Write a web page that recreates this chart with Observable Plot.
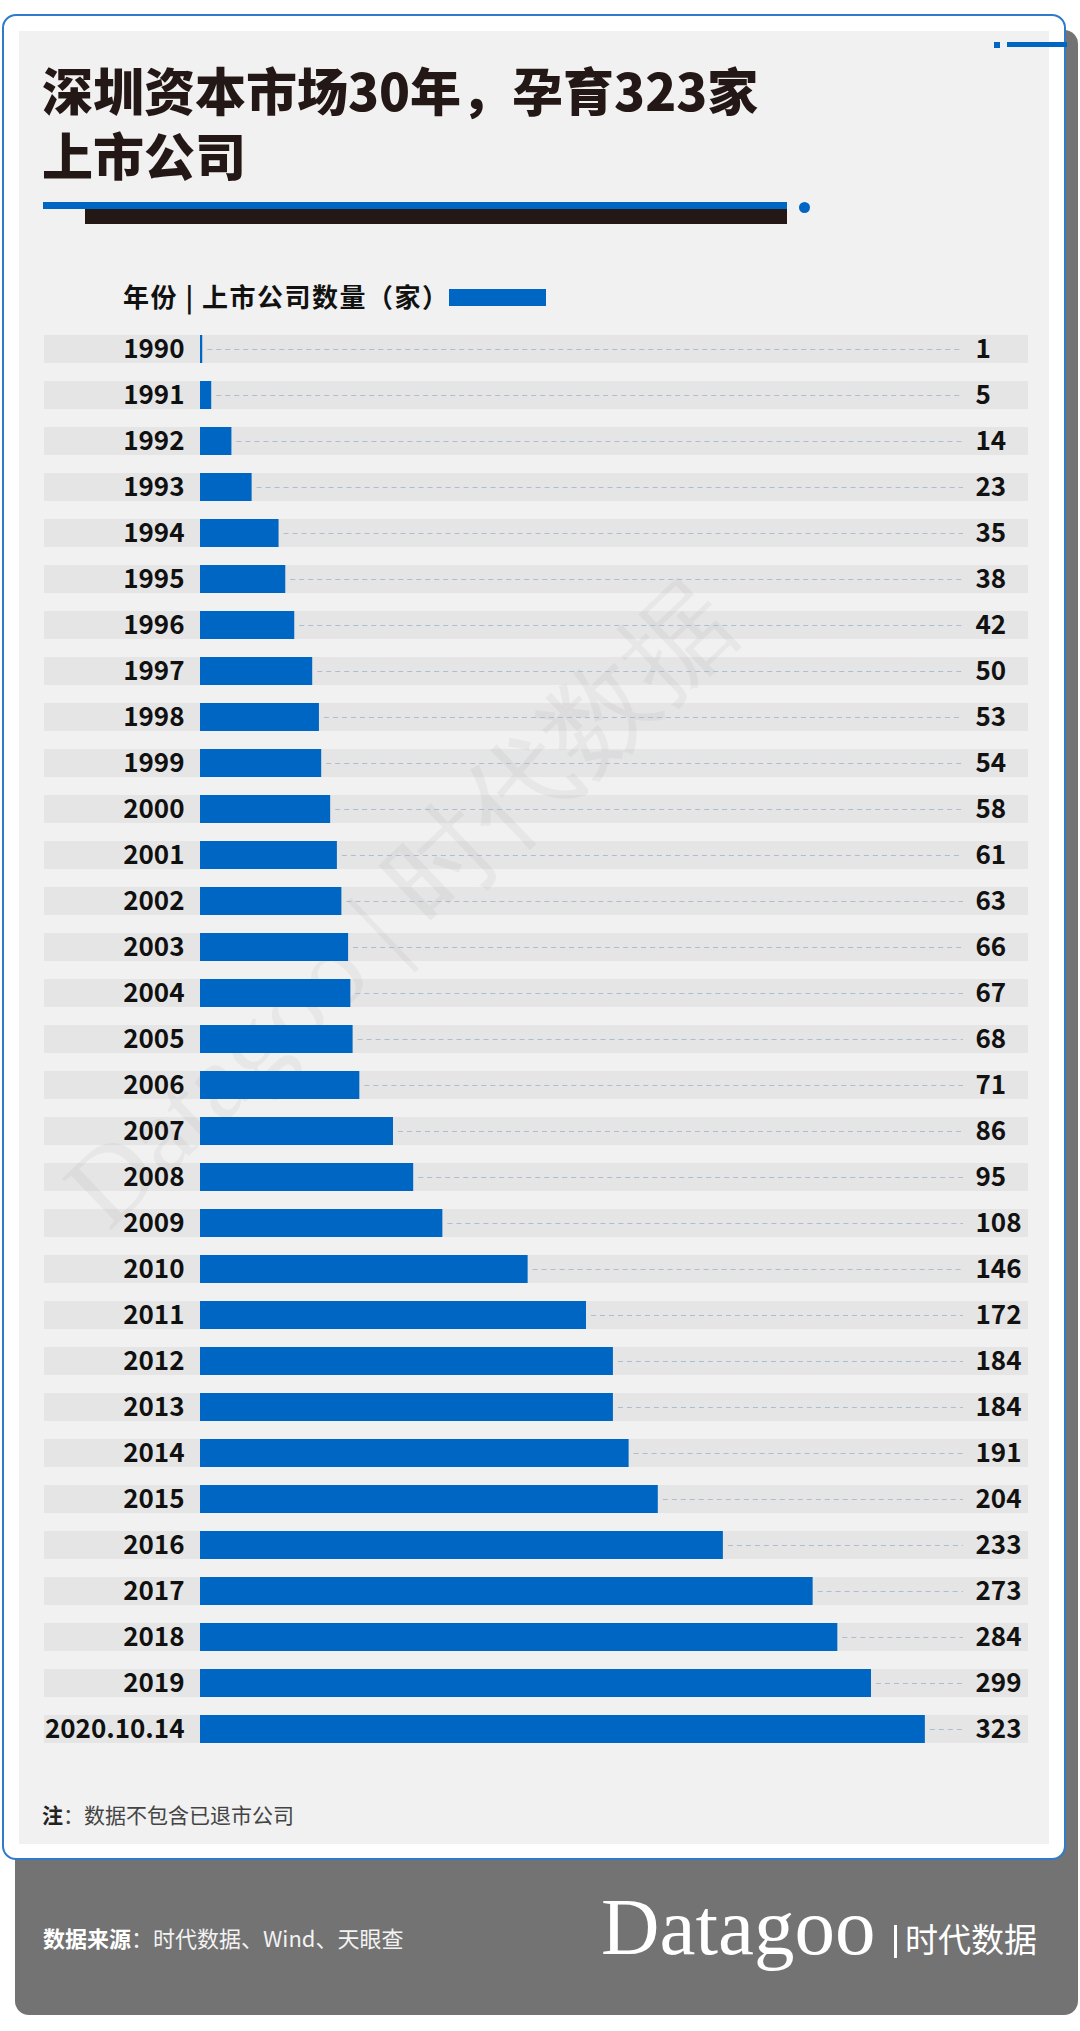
<!DOCTYPE html>
<html>
<head>
<meta charset="utf-8">
<script src="https://cdn.jsdelivr.net/npm/d3@7"></script>
<script src="https://cdn.jsdelivr.net/npm/@observablehq/plot@0.6"></script>
<style>
  html, body { margin: 0; padding: 0; background: #fff; }
  #page { position: relative; width: 1080px; height: 2031px; overflow: hidden; background: #fff; font-family: "Noto Sans CJK SC", "Noto Sans", sans-serif; }
  .abs { position: absolute; }
  .tl { position: absolute; left: 42px; font-size: 51px; line-height: 62px; height: 62px; font-weight: 900; color: #231815; white-space: nowrap; }
</style>
</head>
<body>
<div id="page">
  <div class="abs" style="left:15px;top:30px;width:1063px;height:1985px;background:#737373;border-radius:14px;"></div>
  <div class="abs" style="left:2px;top:14px;width:1064px;height:1846px;background:#fff;border:2px solid #2f7acb;border-radius:14px;box-sizing:border-box;"></div>
  <div class="abs" style="left:19px;top:31px;width:1030px;height:1813px;background:#f1f1f1;"></div>
  <!-- top-right mark -->
  <div class="abs" style="left:994px;top:42px;width:6px;height:6px;background:#0066c4;"></div>
  <div class="abs" style="left:1007px;top:42px;width:60px;height:5px;background:#0066c4;"></div>
  <!-- title -->
  <div class="tl" id="title1" style="top:58px;"></div>
  <div class="tl" id="title2" style="top:123px;"></div>
  <div class="abs" style="left:43px;top:202px;width:744px;height:7px;background:#0066c4;"></div>
  <div class="abs" style="left:85px;top:209px;width:702px;height:15px;background:#231815;"></div>
  <div class="abs" style="left:799px;top:202px;width:11px;height:11px;border-radius:50%;background:#0066c4;"></div>
  <!-- header legend -->
  <div class="abs" id="header" style="left:123px;top:280px;font-size:26px;line-height:32px;font-weight:700;color:#111;white-space:nowrap;letter-spacing:1.5px;"></div>
  <div class="abs" style="left:449px;top:289px;width:97px;height:17px;background:#0066c4;"></div>
  <!-- watermark -->
  <div class="abs" id="wm" style="left:400px;top:905px;transform:translate(-50%,-50%) rotate(-43.6deg);font-family:'Liberation Serif',serif;font-size:108px;color:#e7e7e7;white-space:nowrap;line-height:1;"></div>
  <div class="abs" id="chart" style="left:0;top:300px;"></div>
  <!-- note -->
  <div class="abs" id="note" style="left:42px;top:1800px;font-size:21px;line-height:28px;color:#444;white-space:nowrap;"></div>
  <!-- footer -->
  <div class="abs" id="source" style="left:43px;top:1921px;font-size:22px;line-height:32px;color:#f2f2f2;white-space:nowrap;"></div>
  <div class="abs" id="logo" style="left:601px;top:1882px;font-family:'Liberation Serif',serif;font-size:81px;line-height:90px;color:#fff;white-space:nowrap;"></div>
  <div class="abs" style="left:894px;top:1925px;width:3px;height:33px;background:#fff;"></div>
  <div class="abs" id="logocn" style="left:905px;top:1918px;font-size:33px;line-height:40px;color:#fff;white-space:nowrap;"></div>
</div>
<script>
// ---- texts ----
const titleLines = ["深圳资本市场30年，孕育323家", "上市公司"];
const headerText = "年份 | 上市公司数量（家）";
const noteLabel = "注";
const noteText = "：数据不包含已退市公司";
const sourceLabel = "数据来源";
const sourceText = "：时代数据、Wind、天眼查";
const logoText = "Datagoo";
const logoCn = "时代数据";
const watermarkText = "Datagoo | 时代数据";

// ---- data ----
const years = ["1990","1991","1992","1993","1994","1995","1996","1997","1998","1999",
  "2000","2001","2002","2003","2004","2005","2006","2007","2008","2009",
  "2010","2011","2012","2013","2014","2015","2016","2017","2018","2019","2020.10.14"];
const counts = [1,5,14,23,35,38,42,50,53,54,
  58,61,63,66,67,68,71,86,95,108,
  146,172,184,184,191,204,233,273,284,299,323];
const xMax = 340;

document.getElementById("title1").textContent = titleLines[0];
document.getElementById("title2").textContent = titleLines[1];
document.getElementById("header").textContent = headerText;
document.getElementById("note").innerHTML = `<b style="color:#222">${noteLabel}</b>${noteText}`;
document.getElementById("source").innerHTML = `<b style="color:#fff">${sourceLabel}</b>${sourceText}`;
document.getElementById("logo").textContent = logoText;
document.getElementById("logocn").textContent = logoCn;
document.getElementById("wm").textContent = watermarkText;

const rows = years.map((year, i) => ({year, count: counts[i]}));

const chart = Plot.plot({
  width: 1080,
  height: 1463,
  marginTop: 15,
  marginBottom: 0,
  marginLeft: 200,
  marginRight: 117,
  x: {domain: [0, xMax], axis: null},
  y: {domain: years, padding: 0.393, tickSize: 0, tickPadding: 16, label: null},
  style: {background: "transparent", fontFamily: "'Noto Sans CJK SC', sans-serif", fontSize: "26px", fontWeight: 700, color: "#111", overflow: "visible"},
  marks: [
    Plot.barX(rows, {y: "year", x1: 0, x2: xMax, insetLeft: -156, insetRight: -65, fill: "#000", fillOpacity: 0.048}),
    Plot.ruleY(rows, {y: "year", x1: "count", x2: xMax, insetLeft: 5, stroke: "#aebdce", strokeWidth: 1, strokeDasharray: "5,4"}),
    Plot.barX(rows, {y: "year", x: "count", fill: "#0066c4"}),
    Plot.text(rows, {y: "year", text: "count", frameAnchor: "right", dx: 12, textAnchor: "start", fill: "#111"})
  ]
});
document.getElementById("chart").appendChild(chart);
</script>
</body>
</html>
